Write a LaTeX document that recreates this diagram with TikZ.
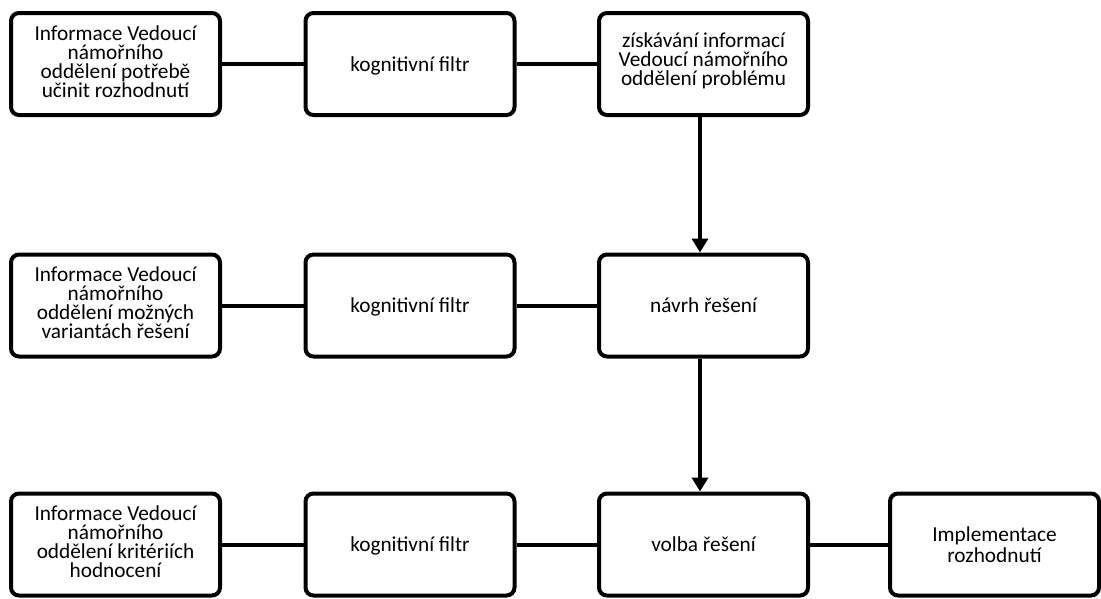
\documentclass[tikz,border=0pt]{standalone}
\usepackage{fontspec}
\setmainfont{Carlito}
\usetikzlibrary{arrows.meta}
% #1 line spacing, #2 height above first baseline, #3 depth below first baseline
\newcommand\boxtext[4][19]{\raisebox{0pt}[#2pt][#3pt]{\vtop{\baselineskip=#1pt\lineskiplimit=-100pt\lineskip=0pt\let\\\cr\halign{\hfil##\hfil\cr #4\crcr}}}}
\tikzset{
  box/.style={draw=black, line width=4pt, rounded corners=8pt, fill=white,
    minimum width=209pt, minimum height=102pt, inner sep=0pt,
    font=\fontsize{21.3}{19}\selectfont, text=black},
  link/.style={line width=4pt},
  flow/.style={line width=4pt, -{Triangle[length=14pt,width=16pt]}}
}
\begin{document}
\begin{tikzpicture}[x=1pt,y=-1pt]
\useasboundingbox[fill=white] (0,0) rectangle (1101,598);
% row 1
\node[box] (i1) at (115.5,64) {\boxtext{26}{74}{Informace Vedoucí\\námořního\\oddělení potřebě\\učinit rozhodnutí}};
\node[box] (f1) at (410,64) {\boxtext{57}{43}{kognitivní filtr}};
\node[box] (z1) at (703.5,64) {\boxtext{33}{67}{získávání informací\\Vedoucí námořního\\oddělení problému}};
% row 2
\node[box] (i2) at (115.5,305.5) {\boxtext{26}{74}{Informace Vedoucí\\námořního\\oddělení možných\\variantách řešení}};
\node[box] (f2) at (410,305.5) {\boxtext{57}{43}{kognitivní filtr}};
\node[box] (n2) at (703.5,305.5) {\boxtext{57}{43}{návrh řešení}};
% row 3
\node[box] (i3) at (115.5,544.5) {\boxtext{26}{74}{Informace Vedoucí\\námořního\\oddělení kritériích\\hodnocení}};
\node[box] (f3) at (410,544.5) {\boxtext{57}{43}{kognitivní filtr}};
\node[box] (v3) at (703.5,544.5) {\boxtext{57}{43}{volba řešení}};
\node[box] (im) at (994.5,544.5) {\boxtext[21]{47}{53}{Implementace\\rozhodnutí}};
% connectors
\draw[link] (i1) -- (f1);
\draw[link] (f1) -- (z1);
\draw[link] (i2) -- (f2);
\draw[link] (f2) -- (n2);
\draw[link] (i3) -- (f3);
\draw[link] (f3) -- (v3);
\draw[link] (v3) -- (im);
\draw[flow] ([xshift=-3.5pt]z1.south) -- ([xshift=-3.5pt]n2.north);
\draw[flow] ([xshift=-3.5pt]n2.south) -- ([xshift=-3.5pt]v3.north);
\end{tikzpicture}
\end{document}
